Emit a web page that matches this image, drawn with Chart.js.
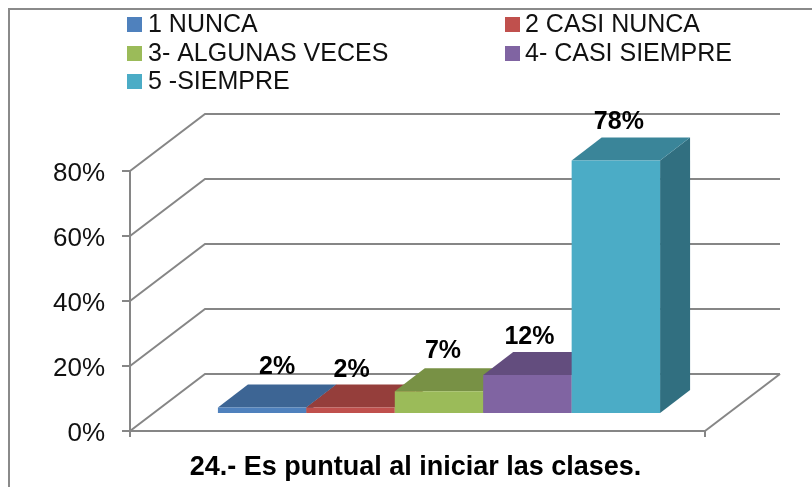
<!DOCTYPE html>
<html>
<head>
<meta charset="utf-8">
<style>html,body{margin:0;padding:0;background:#fff}canvas{display:block}</style>
<script src="https://cdn.jsdelivr.net/npm/chart.js@4"></script>
</head>
<body>
<canvas id="c" width="812" height="487"></canvas>
<script>
const categories = ["24.- Es puntual al iniciar las clases."];
const seriesNames = ["1 NUNCA", "2 CASI NUNCA", "3- ALGUNAS VECES", "4- CASI SIEMPRE", "5 -SIEMPRE"];
const seriesValues = [2, 2, 7, 12, 78];
const faceColors = ["#4F81BD", "#C0504D", "#9BBB59", "#8064A2", "#4BACC6"];
const topColors = ["#3D6594", "#953E3B", "#789145", "#634D7E", "#3A8599"];
const sideColors = ["#345680", "#803533", "#67803B", "#55426C", "#316F80"];
const yTicks = [0, 20, 40, 60, 80];

const FONT = '"Liberation Sans", Arial, sans-serif';
const GRID = "#868686";
const wall = {dx: 75, dy: -57};     // depth of the floor
const shift = {dx: 21.5, dy: -17};  // bars stand in the middle of the floor
const depth = {dx: 30, dy: -23};    // depth of each bar
const labelNudge = [[15, -40], [1, -37], [4, -40], [2, -38], [3, -38]];

function poly(ctx, pts, fill) {
  ctx.beginPath();
  pts.forEach((p, i) => i ? ctx.lineTo(p[0], p[1]) : ctx.moveTo(p[0], p[1]));
  ctx.closePath();
  ctx.fillStyle = fill;
  ctx.fill();
}

function nudgeLabels(scale, dx, dy, area) {
  scale.getLabelItems(area).forEach(item => {
    if (!item.moved) {
      item.options.translation[0] += dx;
      item.options.translation[1] += dy;
      item.moved = true;
    }
  });
}

const scene = {
  id: "scene",
  beforeDraw(chart) {
    const {ctx, width, height} = chart;
    ctx.save();
    ctx.fillStyle = "#fff";
    ctx.fillRect(0, 0, width, height);
    ctx.strokeStyle = "#8a8a8a";
    ctx.lineWidth = 2;
    ctx.beginPath();
    ctx.moveTo(9, height);
    ctx.lineTo(9, 9);
    ctx.lineTo(width, 9);
    ctx.stroke();
    ctx.restore();
    nudgeLabels(chart.scales.y, 0, 3, chart.chartArea);
    nudgeLabels(chart.scales.x, -2, -1, chart.chartArea);
  },
  beforeDatasetsDraw(chart) {
    const {ctx, chartArea: a, scales} = chart;
    ctx.save();
    ctx.strokeStyle = GRID;
    ctx.lineWidth = 2;
    yTicks.forEach(v => {
      const y = scales.y.getPixelForValue(v);
      ctx.beginPath();
      ctx.moveTo(a.left, y);
      ctx.lineTo(a.left + wall.dx, y + wall.dy);
      ctx.lineTo(a.right + wall.dx, y + wall.dy);
      ctx.stroke();
    });
    const y0 = scales.y.getPixelForValue(0);
    ctx.beginPath();
    ctx.moveTo(a.right, y0);
    ctx.lineTo(a.right + wall.dx, y0 + wall.dy);
    ctx.stroke();
    ctx.restore();

    // bars painted left to right, each with its depth faces
    chart.data.datasets.forEach((ds, i) => {
      const meta = chart.getDatasetMeta(i);
      const bar = meta.data[0];
      const L = bar.x - bar.width / 2 + shift.dx, R = bar.x + bar.width / 2 + shift.dx;
      const T = bar.y + shift.dy, B = bar.base + shift.dy;
      poly(ctx, [[R, T], [R + depth.dx, T + depth.dy], [R + depth.dx, B + depth.dy], [R, B]], sideColors[i]);
      poly(ctx, [[L, T], [L + depth.dx, T + depth.dy], [R + depth.dx, T + depth.dy], [R, T]], topColors[i]);
      ctx.save();
      ctx.translate(shift.dx, shift.dy);
      meta.controller.draw();
      ctx.restore();
    });

    ctx.save();
    ctx.fillStyle = "#000";
    ctx.font = "bold 25px " + FONT;
    ctx.textAlign = "center";
    ctx.textBaseline = "middle";
    chart.data.datasets.forEach((ds, i) => {
      const bar = chart.getDatasetMeta(i).data[0];
      ctx.fillText(ds.data[0] + "%", bar.x + shift.dx + labelNudge[i][0], bar.y + shift.dy + labelNudge[i][1]);
    });
    ctx.restore();
    return false;
  },
  afterDraw(chart) {
    const {ctx} = chart;
    const cols = [[127, 148], [505, 525]], rows = [17, 46, 74];
    ctx.save();
    ctx.font = "25px " + FONT;
    ctx.textBaseline = "middle";
    chart.data.datasets.forEach((ds, i) => {
      const col = cols[i % 2], y = rows[Math.floor(i / 2)];
      ctx.fillStyle = ds.backgroundColor;
      ctx.fillRect(col[0], y, 15, 15);
      ctx.fillStyle = "#111";
      ctx.fillText(ds.label, col[1], y + 8);
    });
    ctx.restore();
  }
};

new Chart(document.getElementById("c"), {
  type: "bar",
  data: {
    labels: categories,
    datasets: seriesNames.map((name, i) => ({
      label: name,
      data: [seriesValues[i]],
      backgroundColor: faceColors[i],
      borderWidth: 0
    }))
  },
  options: {
    responsive: false,
    animation: false,
    devicePixelRatio: 1,
    categoryPercentage: 0.769,
    barPercentage: 1,
    layout: {padding: {top: 171, right: 107, left: 0, bottom: 0}},
    plugins: {legend: {display: false}, tooltip: {enabled: false}, title: {display: false}},
    scales: {
      x: {
        afterFit(s) { s.height = 56; },
        grid: {drawOnChartArea: false, color: GRID, lineWidth: 2, tickLength: 6, tickColor: GRID},
        border: {color: GRID, width: 2},
        ticks: {color: "#000", font: {family: FONT, size: 27, weight: "bold"}, padding: 15, maxRotation: 0}
      },
      y: {
        min: 0,
        max: 80,
        afterFit(s) { s.width = 130; },
        afterBuildTicks(s) { s.ticks = yTicks.map(v => ({value: v})); },
        grid: {drawOnChartArea: false, color: GRID, lineWidth: 2, tickLength: 8, tickColor: GRID},
        border: {color: GRID, width: 2},
        ticks: {color: "#111", font: {family: FONT, size: 26}, padding: 17, callback: v => v + "%"}
      }
    }
  },
  plugins: [scene]
});
</script>
</body>
</html>
